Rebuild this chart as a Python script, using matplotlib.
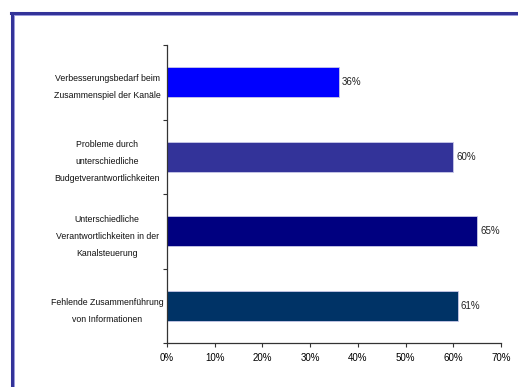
import matplotlib.pyplot as plt
from matplotlib.lines import Line2D
from matplotlib.ticker import MultipleLocator, PercentFormatter
import numpy as np

categories = [
    "Verbesserungsbedarf beim\nZusammenspiel der Kanäle",
    "Probleme durch\nunterschiedliche\nBudgetverantwortlichkeiten",
    "Unterschiedliche\nVerantwortlichkeiten in der\nKanalsteuerung",
    "Fehlende Zusammenführung\nvon Informationen",
]
values = [36, 60, 65, 61]
colors = ["#0000ff", "#333399", "#000080", "#003366"]

plt.rcParams["font.family"] = ["Liberation Sans", "DejaVu Sans"]

fig = plt.figure(figsize=(5.18, 3.87), dpi=100)
ax = fig.add_axes([0.3224, 0.1137, 0.6448, 0.77])

y = np.arange(len(categories))
ax.barh(y, values, height=0.4, color=colors, edgecolor="#c8c8e8", linewidth=0.6)
for yi, v in zip(y, values):
    ax.text(v + 0.6, yi, f"{v}%", va="center", ha="left", fontsize=7, color="#222222")

ax.set_ylim(len(categories) - 0.5, -0.5)
ax.set_xlim(0, 70)
ax.set_yticks(y)
ax.set_yticklabels(categories, fontsize=6.3, linespacing=2.15, ha="center", color="#111111")
ax.tick_params(axis="y", length=0, pad=43)
ax.set_yticks(np.arange(-0.5, len(categories), 1), minor=True)
ax.tick_params(axis="y", which="minor", length=3, width=0.8, color="#333333")

ax.xaxis.set_major_locator(MultipleLocator(10))
ax.xaxis.set_major_formatter(PercentFormatter(decimals=0))
ax.tick_params(axis="x", labelsize=7, length=3, width=0.8, color="#333333", pad=4)

for side in ("top", "right"):
    ax.spines[side].set_visible(False)
for side in ("left", "bottom"):
    ax.spines[side].set_color("#333333")
    ax.spines[side].set_linewidth(0.9)

# outer frame
fig.add_artist(Line2D([0.023, 0.023], [0, 0.966], transform=fig.transFigure, color="#333399", lw=2.2))
fig.add_artist(Line2D([0.021, 1], [0.966, 0.966], transform=fig.transFigure, color="#333399", lw=2.2))
fig.add_artist(Line2D([0.0265, 0.0265], [0, 0.962], transform=fig.transFigure, color="#9999dd", lw=0.7))
fig.add_artist(Line2D([0.0265, 1], [0.9625, 0.9625], transform=fig.transFigure, color="#9999dd", lw=0.7))

fig.savefig("out.png", dpi=100)
